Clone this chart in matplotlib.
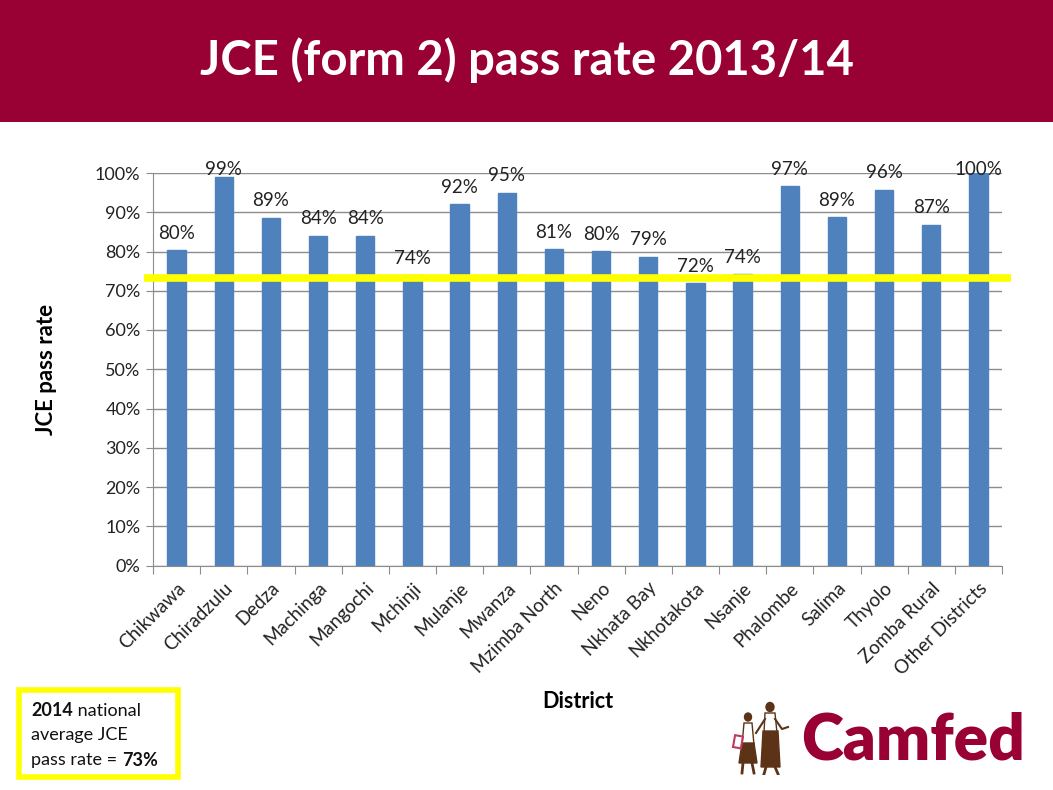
import matplotlib
matplotlib.use("Agg")
import matplotlib.pyplot as plt
from matplotlib.patches import Rectangle, Ellipse, Polygon
import numpy as np

districts = ["Chikwawa", "Chiradzulu", "Dedza", "Machinga", "Mangochi", "Mchinji",
             "Mulanje", "Mwanza", "Mzimba North", "Neno", "Nkhata Bay", "Nkhotakota",
             "Nsanje", "Phalombe", "Salima", "Thyolo", "Zomba Rural", "Other Districts"]
pass_rate = [80.3, 99.1, 88.6, 84.0, 84.0, 74.0, 92.0, 95.0, 80.6, 80.1, 78.7, 71.9,
             74.2, 96.6, 88.8, 95.7, 86.8, 100.0]
national_avg = 73.2
yticks = [0, 10, 20, 30, 40, 50, 60, 70, 80, 90, 100]

plt.rcParams['font.family'] = ['Lato', 'DejaVu Sans']

W, H = 1053, 790
fig = plt.figure(figsize=(W / 100, H / 100), dpi=100)
fig.patch.set_facecolor('white')

# Title band
fig.patches.append(Rectangle((0, 1 - 122 / H), 1, 122 / H, transform=fig.transFigure,
                             facecolor='#990033', edgecolor='none', zorder=0))
fig.text(527 / W, 1 - 60 / H, "JCE (form 2) pass rate 2013/14", color='white',
         fontsize=34, fontweight='bold', ha='center', va='center')

ax = fig.add_axes([153 / W, 1 - 565.5 / H, (1002 - 153) / W, (565.5 - 173) / H])
x = np.arange(len(districts))
ax.bar(x, pass_rate, width=0.39, color='#4F81BD', edgecolor='#4F81BD', zorder=3)
ax.set_xlim(-0.5, len(districts) - 0.5)
ax.set_ylim(0, 100)
ax.set_yticks(yticks)
ax.set_yticklabels([f"{v}%" for v in yticks], fontsize=13, color='#222222')
ax.yaxis.grid(True, color='#8C8C8C', linewidth=1, zorder=0)
ax.set_axisbelow(True)
for s in ['top', 'right']:
    ax.spines[s].set_visible(False)
ax.spines['left'].set_color('#8C8C8C')
ax.spines['bottom'].set_color('#8C8C8C')
ax.tick_params(axis='y', length=5, color='#8C8C8C', pad=4)
ax.set_xticks(np.arange(-0.5, len(districts), 1), minor=False)
ax.set_xticklabels([])
ax.tick_params(axis='x', length=6, color='#8C8C8C', direction='out')
ax.set_xticks(x, minor=True)
ax.set_xticklabels(districts, minor=True, rotation=45, ha='right',
                   rotation_mode='anchor', fontsize=13.5, color='#222222')
ax.tick_params(axis='x', which='minor', length=0, pad=10)

for xi, v in zip(x, pass_rate):
    ax.text(xi, min(v + 4.3, 100.8), f"{round(v)}%", ha='center', va='center',
            fontsize=13.5, color='#222222', zorder=4, clip_on=False)

ax.set_ylabel("JCE pass rate", fontsize=16, fontweight='bold')
ax.yaxis.set_label_coords(-(153 - 57) / (1002 - 153), 0.5)
fig.text(578 / W, 1 - 702 / H, "District", fontsize=15.5, fontweight='bold',
         ha='center', va='center')

# national average line
ax.plot([-0.7, 17.7], [national_avg, national_avg], color='#FFFF00', linewidth=5.5,
        solid_capstyle='butt', zorder=5, clip_on=False)

# Info box
fig.patches.append(Rectangle((19 / W, 1 - 777 / H), (178 - 19) / W, (777 - 690) / H,
                             transform=fig.transFigure, facecolor='white',
                             edgecolor='#FFFF00', linewidth=4, zorder=2))
tx = 31 / W
fs = 13
fig.canvas.draw()
r = fig.canvas.get_renderer()
a = fig.text(tx, 1 - 711 / H, "2014", fontsize=fs, va='center', ha='left',
             fontweight='bold', color='#111111')
bb = a.get_window_extent(r)
fig.text(bb.x1 / W, 1 - 711 / H, " national", fontsize=fs, va='center', ha='left',
         color='#111111')
fig.text(tx, 1 - 735 / H, "average JCE", fontsize=fs, va='center', ha='left',
         color='#111111')
t1 = fig.text(tx, 1 - 760 / H, "pass rate = ", fontsize=fs, va='center', ha='left',
              color='#111111')
bb = t1.get_window_extent(r)
fig.text(bb.x1 / W, 1 - 760 / H, "73%", fontsize=fs, va='center', ha='left',
         fontweight='bold', color='#111111')

# Camfed logo (text plus simple stylized figures)
fig.text(1025 / W, 1 - 741 / H, "Camfed", color='#990033', fontsize=46,
         fontweight='heavy', ha='right', va='center')
lax = fig.add_axes([730 / W, 1 - 775 / H, 70 / W, 75 / H])
lax.set_xlim(0, 70)
lax.set_ylim(0, 75)
lax.axis('off')
brown = '#5C3317'
# small girl
lax.add_patch(Ellipse((18, 58), 7, 8, color=brown))
lax.add_patch(Polygon([[14, 52], [22, 52], [24, 30], [12, 30]], closed=True, color='white', ec=brown, lw=1))
lax.add_patch(Polygon([[12, 32], [24, 32], [27, 12], [9, 12]], closed=True, color=brown))
lax.plot([13, 12], [12, 2], color=brown, lw=2)
lax.plot([22, 24], [12, 2], color=brown, lw=2)
lax.add_patch(Rectangle((3, 28), 8, 12, fill=False, ec='#C0385A', lw=1.5, angle=-10))
# tall woman
lax.add_patch(Ellipse((40, 68), 8, 9, color=brown))
lax.add_patch(Polygon([[35, 62], [45, 62], [47, 42], [34, 42]], closed=True, color='white', ec=brown, lw=1))
lax.add_patch(Polygon([[33, 44], [48, 44], [50, 8], [31, 8]], closed=True, color=brown))
lax.plot([45, 52, 58], [56, 46, 48], color=brown, lw=1.5)
lax.plot([35, 26], [56, 42], color=brown, lw=1.5)
lax.plot([36, 34], [8, 1], color=brown, lw=2)
lax.plot([45, 48], [8, 1], color=brown, lw=2)

fig.savefig("out.png", dpi=100, facecolor='white')
